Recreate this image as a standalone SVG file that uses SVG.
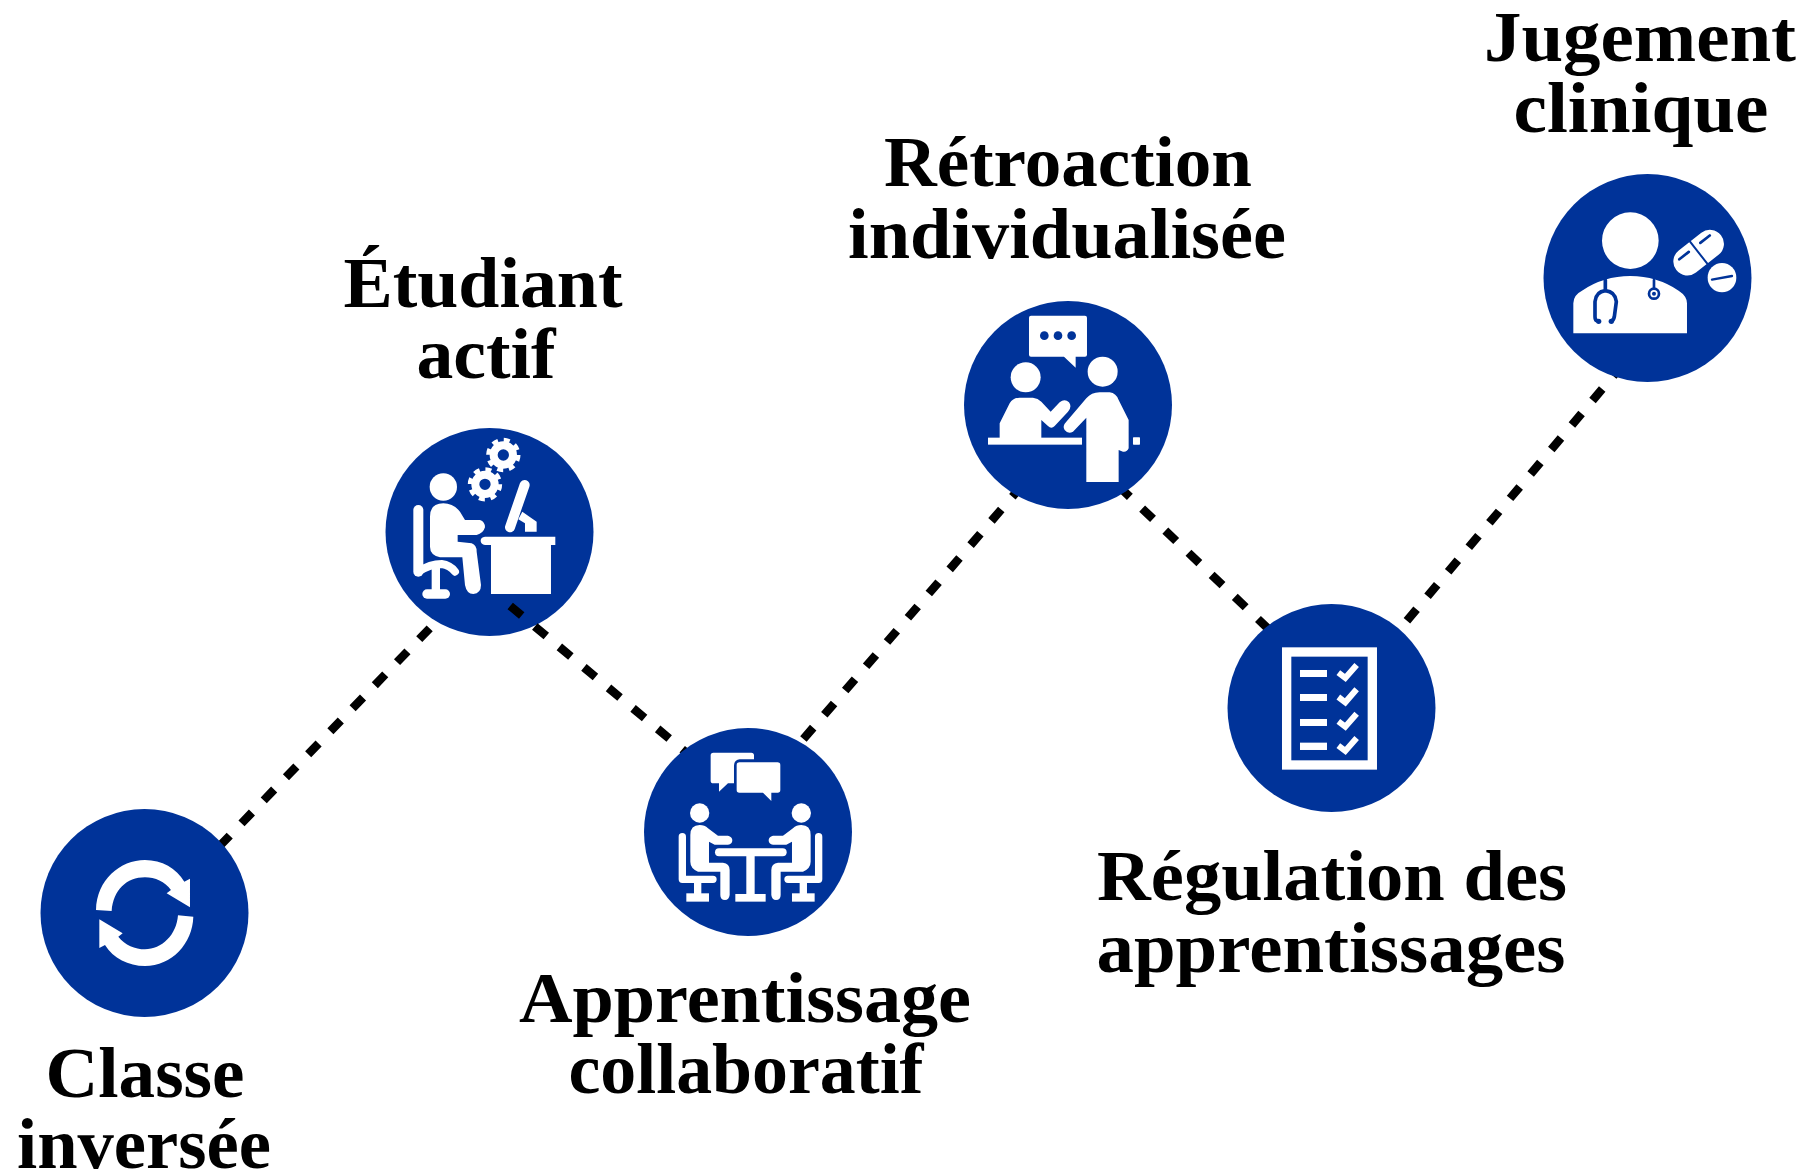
<svg xmlns="http://www.w3.org/2000/svg" xmlns:xlink="http://www.w3.org/1999/xlink" width="1803" height="1173" viewBox="0 0 1803 1173">
<style>
.bg{fill:#fff}
.disc{fill:#003399}
.w{fill:#fff}
.b{fill:#003399}
.ws{fill:none;stroke:#fff;stroke-linecap:round;stroke-linejoin:round}
.bs{fill:none;stroke:#003399;stroke-linecap:round;stroke-linejoin:round}
.lbl{font-family:"Liberation Serif","Times New Roman",serif;font-weight:700;font-size:71px;fill:#000;text-anchor:middle}
.dash{stroke:#000;stroke-width:8.5;stroke-dasharray:15 17;fill:none}
</style>
<defs>
<g id="gear">
<circle r="29" fill="none" stroke="#fff" stroke-width="24"/>
<circle r="44" fill="none" stroke="#fff" stroke-width="15" stroke-dasharray="17.5 17.05"/>
</g>
<g id="seated">
<circle cx="200" cy="279" r="29" class="w"/>
<path class="w" d="M172,345Q172,315 200,315Q215,315 225,325L255,347L285,347Q298,350 298,361Q298,373 285,374L245,374L228,365L228,428L270,428Q290,430 290,450L290,525Q288,540 276,540Q262,540 262,525L262,455L195,455Q172,445 172,425Z"/>
<path class="ws" stroke-width="22" d="M148,350L148,478L240,478"/>
<rect class="w" x="183" y="488" width="22" height="34"/>
<rect class="w" x="160" y="520" width="68" height="25"/>
</g>
</defs>
<rect class="bg" width="1803" height="1173"/>

<g id="node-etudiant">
<circle class="disc" cx="489.5" cy="532" r="104"/>
<g transform="translate(375 420) scale(.3333)">
<circle class="w" cx="205" cy="201" r="41"/>
<path class="ws" stroke-width="30" d="M130,270L130,455"/>
<path class="ws" stroke-width="24" d="M130,455Q165,432 200,432Q225,435 240,455"/>
<rect class="w" x="170" y="440" width="25" height="80"/>
<rect class="w" x="142" y="508" width="83" height="28" rx="14"/>
<path class="w" d="M165,290Q165,250 205,250Q235,250 255,275L270,300L315,300Q330,305 330,322Q325,340 305,345L248,345L248,365L290,370Q305,375 305,395L318,495Q318,520 295,522Q275,522 270,495L262,412L195,412Q165,405 165,380Z"/>
<path class="w" d="M330,350L541,350L541,375L528,375L528,522L348,522L348,375L330,375Q317,372 317,362Q317,352 330,350Z"/>
<path class="ws" stroke-width="30" d="M449,195L405,322"/>
<path class="w" d="M430,298L442,275L485,305L485,335L450,335L450,310Z"/>
<use xlink:href="#gear" href="#gear" transform="translate(385 105)"/>
<use xlink:href="#gear" href="#gear" transform="translate(330 193)"/>
</g>
</g>

<g id="connectors">
<path class="dash" d="M219.3,846.4L430,628"/>
<path class="dash" d="M510.2,605.9L695,760"/>
<path class="dash" d="M803.4,739L1025,482"/>
<path class="dash" d="M1119,486.5L1280,640"/>
<path class="dash" d="M1406.9,620.7L1625,362"/>
</g>

<g id="node-classe">
<circle class="disc" cx="144.5" cy="913" r="104"/>
<g transform="translate(30 800) scale(.3333)">
<path class="w" d="M198,330C200,240 270,180 345,180C395,180 440,205 463,245L480,236L480,322L410,280L423,270C405,245 375,232 345,232C290,232 250,270 245,333Z"/>
<path class="w" d="M490,350C488,430 425,498 345,498C295,498 250,475 225,435L208,444L208,358L278,400L265,410C285,435 315,448 345,448C395,448 440,405 444,346Z"/>
</g>
<text class="lbl" x="145" y="1097" textLength="199" lengthAdjust="spacingAndGlyphs">Classe</text>
<text class="lbl" x="144" y="1168" textLength="254" lengthAdjust="spacingAndGlyphs">inversée</text>
</g>

<g id="label-etudiant">
<text class="lbl" x="483" y="307" textLength="279" lengthAdjust="spacingAndGlyphs">Étudiant</text>
<text class="lbl" x="486" y="378" textLength="139" lengthAdjust="spacingAndGlyphs">actif</text>
</g>

<g id="node-apprentissage">
<circle class="disc" cx="748" cy="832" r="104"/>
<g transform="translate(633 720) scale(.3333)">
<path class="w" d="M241,98L355,98Q363,98 363,106L363,118L320,118Q303,120 303,138L303,190L285,190L258,215L258,190L241,190Q233,190 233,182L233,106Q233,98 241,98Z"/>
<path class="w" d="M319,127L434,127Q442,127 442,135L442,210Q442,218 434,218L415,218L415,243L390,218L319,218Q311,218 311,210L311,135Q311,127 319,127Z"/>
<use xlink:href="#seated" href="#seated"/>
<use xlink:href="#seated" href="#seated" transform="matrix(-1 0 0 1 705 0)"/>
<path class="ws" stroke-width="24" d="M258,397L449,397"/>
<rect class="w" x="340" y="408" width="25" height="118"/>
<rect class="w" x="307" y="522" width="91" height="23"/>
</g>
<text class="lbl" x="745" y="1022" textLength="452" lengthAdjust="spacingAndGlyphs">Apprentissage</text>
<text class="lbl" x="746" y="1093" textLength="355" lengthAdjust="spacingAndGlyphs">collaboratif</text>
</g>

<g id="node-retroaction">
<circle class="disc" cx="1068" cy="405" r="104"/>
<g transform="translate(953 295) scale(.3333)">
<path class="w" d="M234,62L396,62Q402,62 402,68L402,179Q402,185 396,185L368,185L368,218L333,185L234,185Q228,185 228,179L228,68Q228,62 234,62Z"/>
<circle class="b" cx="274" cy="122" r="13"/>
<circle class="b" cx="315" cy="122" r="13"/>
<circle class="b" cx="356" cy="122" r="13"/>
<circle class="w" cx="218" cy="247" r="45"/>
<path class="w" d="M140,430L140,385L170,325Q180,308 200,308L240,308Q255,310 265,320L293,350L320,322Q335,310 348,322Q358,335 345,350L305,393Q295,403 285,393L265,375L265,430Z"/>
<rect class="w" x="105" y="428" width="282" height="21"/>
<circle class="w" cx="449" cy="230" r="45"/>
<path class="w" d="M400,310Q415,292 440,292L470,292Q490,295 497,315L527,375L527,460Q522,472 510,470L497,465L497,561L400,561L400,368L360,410Q345,418 335,405Q327,393 340,380Z"/>
<rect class="w" x="540" y="427" width="21" height="22" rx="2"/>
</g>
<text class="lbl" x="1068" y="186" textLength="368" lengthAdjust="spacingAndGlyphs">Rétroaction</text>
<text class="lbl" x="1067" y="258" textLength="438" lengthAdjust="spacingAndGlyphs">individualisée</text>
</g>

<g id="node-regulation">
<circle class="disc" cx="1331.5" cy="708" r="104"/>
<g transform="translate(1215 600) scale(.3333)">
<rect class="w" x="201" y="142" width="285" height="367"/>
<rect class="b" x="229" y="170" width="229" height="311"/>
<rect class="w" x="255" y="210" width="81" height="21"/>
<rect class="w" x="255" y="282" width="81" height="21"/>
<rect class="w" x="255" y="357" width="81" height="21"/>
<rect class="w" x="255" y="428" width="81" height="22"/>
<g fill="none" stroke="#fff" stroke-width="18">
<path d="M370,218L391,234L425,195"/>
<path d="M370,291L391,307L425,268"/>
<path d="M370,364L391,380L425,341"/>
<path d="M370,437L391,453L425,414"/>
</g>
</g>
<text class="lbl" x="1332" y="900" textLength="470" lengthAdjust="spacingAndGlyphs">Régulation des</text>
<text class="lbl" x="1331" y="972" textLength="469" lengthAdjust="spacingAndGlyphs">apprentissages</text>
</g>

<g id="node-jugement">
<circle class="disc" cx="1647.5" cy="278" r="104"/>
<g transform="translate(1532 170) scale(.3333)">
<circle class="w" cx="295" cy="212" r="85"/>
<path class="w" d="M124,490L124,400Q124,375 150,362Q215,318 295,318Q375,318 440,362Q465,378 465,400L465,490Z"/>
<path class="bs" stroke-width="11" d="M220,330L220,360M197,452Q189,452 189,440L189,395Q192,365 220,362Q250,365 253,395L247,440Q245,452 238,452"/>
<circle class="b" cx="200" cy="454" r="8"/>
<circle class="b" cx="238" cy="454" r="8"/>
<path class="bs" stroke-width="8" d="M366,330L366,352"/>
<circle cx="366" cy="371" r="15" fill="#fff" stroke="#003399" stroke-width="8"/>
<circle class="b" cx="366" cy="371" r="6"/>
<g transform="rotate(-38 500 248)">
<rect class="w" x="415" y="206" width="170" height="84" rx="42"/>
<path class="bs" stroke-width="6" d="M500,206L500,290"/>
<path class="bs" stroke-width="8" d="M442,228L478,228M522,228L558,228"/>
</g>
<ellipse class="w" cx="570" cy="323" rx="43" ry="44"/>
<path class="bs" stroke-width="7" d="M540,329L600,318"/>
</g>
<text class="lbl" x="1640" y="61" textLength="312" lengthAdjust="spacingAndGlyphs">Jugement</text>
<text class="lbl" x="1641" y="132" textLength="255" lengthAdjust="spacingAndGlyphs">clinique</text>
</g>
</svg>
